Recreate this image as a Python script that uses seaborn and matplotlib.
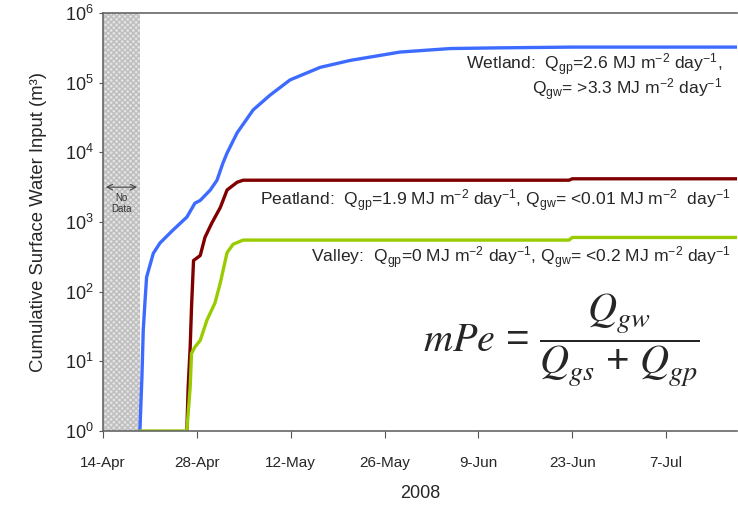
import numpy as np
import pandas as pd
import matplotlib
matplotlib.use("Agg")
import matplotlib.pyplot as plt
import seaborn as sns

# Cumulative surface water input per site (days after 14-Apr-2008, m^3)
wetland_days = [5.5, 5.8, 6.0, 6.3, 6.5, 7.5, 8.5, 10.4, 12.5, 13.7, 14.5, 16.0, 17.0,
                17.9, 18.5, 20.0, 22.4, 24.9, 27.9, 32.4, 36.9, 44.3, 51.8, 59.0, 70.0, 94.6]
wetland_vals = [1, 5.9, 28, 83, 162, 355, 500, 760, 1175, 1860, 2040, 2880, 3980,
                7080, 9770, 19050, 40700, 66100, 109600, 166000, 209000, 275000,
                309000, 316000, 324000, 324000]

peatland_days = [12.5, 12.7, 13.0, 13.2, 13.5, 14.5, 15.2, 16.2, 17.5, 18.5, 20.0, 20.9,
                 69.5, 70.0, 94.6]
peatland_vals = [1, 4.3, 16, 60, 280, 330, 600, 955, 1620, 2880, 3720, 3980,
                 3980, 4170, 4170]

valley_days = [5.5, 12.5, 13.0, 13.2, 13.7, 14.5, 15.5, 16.7, 17.5, 18.5, 19.4, 20.9,
               69.5, 70.0, 94.6]
valley_vals = [1, 1, 4.3, 13, 16, 20, 39, 69, 135, 363, 479, 550, 550, 600, 600]

tick_labels = ["14-Apr", "28-Apr", "12-May", "26-May", "9-Jun", "23-Jun", "7-Jul"]
y_ticks = [1e0, 1e1, 1e2, 1e3, 1e4, 1e5, 1e6]
no_data_end_day = 5.5

start = pd.Timestamp("2008-04-14")


def to_dates(days):
    return start + pd.to_timedelta(days, unit="D")


frames = []
for name, d, v in [("Wetland", wetland_days, wetland_vals),
                   ("Peatland", peatland_days, peatland_vals),
                   ("Valley", valley_days, valley_vals)]:
    frames.append(pd.DataFrame({"date": to_dates(d), "value": v, "site": name}))
df = pd.concat(frames, ignore_index=True)

sns.set_style("ticks")
plt.rcParams["font.family"] = ["Liberation Sans", "DejaVu Sans"]
plt.rcParams["mathtext.fontset"] = "custom"
plt.rcParams["mathtext.rm"] = "Liberation Sans"
plt.rcParams["mathtext.it"] = "Liberation Sans:italic"
plt.rcParams["mathtext.default"] = "regular"

fig = plt.figure(figsize=(7.38, 5.08), dpi=100)
ax = fig.add_axes([0.1396, 0.1516, 0.8594, 0.8228])

# Period without measurements
ax.axvspan(start, start + pd.Timedelta(days=no_data_end_day), facecolor="#e2e2e2",
           edgecolor="#bdbdbd", hatch="xxxxxx", linewidth=0, zorder=0)

palette = {"Wetland": "#3d6bff", "Peatland": "#800000", "Valley": "#99cc00"}
for site in ["Wetland", "Peatland", "Valley"]:
    sns.lineplot(data=df[df.site == site], x="date", y="value", color=palette[site],
                 linewidth=2.4, ax=ax, legend=False, estimator=None, sort=False)

ax.set_yscale("log")
ax.set_yticks(y_ticks)
ax.set_ylim(1, 1e6)
ax.set_xlim(start, start + pd.Timedelta(days=94.6))
ax.set_xticks(to_dates(np.arange(len(tick_labels)) * 14))
ax.set_xticklabels(tick_labels, fontsize=11)
ax.xaxis.get_offset_text().set_visible(False)
ax.yaxis.get_offset_text().set_visible(False)
ax.yaxis.set_minor_locator(matplotlib.ticker.NullLocator())
ax.tick_params(axis="y", labelsize=13, length=3, color="#555555")
ax.tick_params(axis="x", length=5, color="#555555", pad=13)

for s in ["left", "bottom", "top"]:
    ax.spines[s].set_color("#666666")
    ax.spines[s].set_linewidth(1.2)
ax.spines["right"].set_visible(False)

ax.set_ylabel("Cumulative Surface Water Input (m³)", fontsize=13.3, labelpad=13)
ax.set_xlabel("2008", fontsize=13, labelpad=11)

# "No Data" marker
ax.annotate("", xy=(start, 10 ** 3.5), xytext=(start + pd.Timedelta(days=no_data_end_day), 10 ** 3.5),
            arrowprops=dict(arrowstyle="<->", color="#444444", lw=0.8))
ax.text(start + pd.Timedelta(days=no_data_end_day / 2), 10 ** 3.26, "No\nData",
        ha="center", va="center", fontsize=7, color="#333333", linespacing=1.1)

# Site annotations
fs = 12.6
ax.text(start + pd.Timedelta(days=92.3), 10 ** 5.45,
        "Wetland:  Q$_{gp}$=2.6 MJ m$^{-2}$ day$^{-1}$,\n"
        "Q$_{gw}$= >3.3 MJ m$^{-2}$ day$^{-1}$",
        ha="right", va="top", multialignment="right", fontsize=fs, linespacing=0.95)
ax.text(start + pd.Timedelta(days=93.6), 10 ** 3.23,
        r"Peatland:  Q$_{gp}$=1.9 MJ m$^{-2}$ day$^{-1}$, Q$_{gw}$= <0.01 MJ m$^{-2}$  day$^{-1}$",
        ha="right", va="baseline", fontsize=fs)
ax.text(start + pd.Timedelta(days=93.6), 10 ** 2.41,
        r"Valley:  Q$_{gp}$=0 MJ m$^{-2}$ day$^{-1}$, Q$_{gw}$= <0.2 MJ m$^{-2}$ day$^{-1}$",
        ha="right", va="baseline", fontsize=fs)

# Modified Peclet number
ax.text(start + pd.Timedelta(days=68.3), 10 ** 1.3,
        r"$\mathit{mPe}\,=\,\dfrac{\mathit{Q}_{\mathit{gw}}}{\mathit{Q}_{\mathit{gs}}\,+\,\mathit{Q}_{\mathit{gp}}}$",
        ha="center", va="center", fontsize=29, math_fontfamily="stix")

fig.savefig("out.png", dpi=100)
